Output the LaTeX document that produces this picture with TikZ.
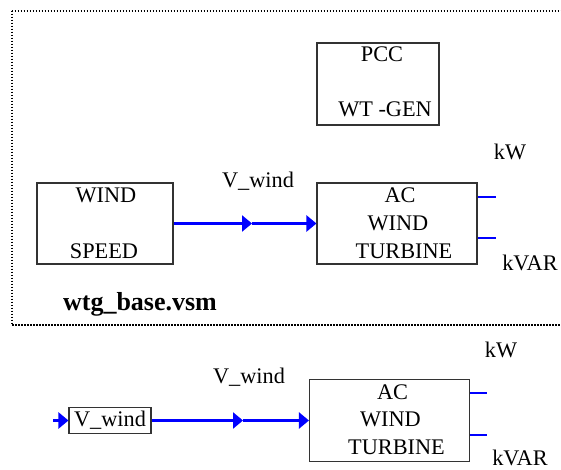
\documentclass[tikz,border=0pt]{standalone}
\usepackage{fontspec}
\setmainfont{Liberation Serif}
\usetikzlibrary{arrows.meta}
\tikzset{
  box/.style={draw=black!80, line width=1.1pt, inner sep=0pt, minimum width=#1},
  txt/.style={anchor=base, inner sep=0pt, font=\fontsize{22.3}{26}\selectfont},
  bold/.style={anchor=base, inner sep=0pt, font=\fontsize{26}{30}\selectfont\bfseries},
  sig/.style={draw=blue, line width=2.3pt, -{Triangle[length=10pt,width=16pt]}},
  stub/.style={draw=blue, line width=2.3pt},
  frame/.style={draw=black, line width=2pt, dash pattern=on 1.6pt off 1.4pt}
}
\begin{document}
\begin{tikzpicture}[x=1pt,y=-1pt]
\useasboundingbox (0,0) rectangle (561,470);
\clip (0,0) rectangle (561,470);
% dotted frame
\coordinate (f1) at (575,10.7);
\coordinate (f2) at (11.7,10.7);
\coordinate (f3) at (11.7,325);
\coordinate (f4) at (575,325);
\draw[frame] (f2) -- (f1);
\draw[frame] (f2) -- (f3) -- (f4);

% ===== top section =====
\node[box=122pt, minimum height=82pt] (pcc) at (378,84) {};
\node[txt] (pcct) at (382,62) {PCC};
\node[txt] (wtgen) at (385,117) {WT -GEN};

\node[box=136pt, minimum height=81pt] (ws) at (105,223.5) {};
\node[txt] (wst1) at (106,202) {WIND};
\node[txt] (wst2) at (104,258) {SPEED};

\node[txt] (vw1) at (258,188) {V\_wind};

\node[box=160pt, minimum height=81pt] (ac1) at (397,223.5) {};
\node[txt] (ac1a) at (400,203) {AC};
\node[txt] (ac1b) at (398,230) {WIND};
\node[txt] (ac1c) at (404,258) {TURBINE};

\coordinate (mid1) at (252,223.5);
\draw[sig] (ws.east) -- (mid1);
\draw[sig] (mid1) -- (ac1.west);

\coordinate (kw1e) at (496,197);
\coordinate (kv1e) at (496,238);
\draw[stub] (ac1.east |- kw1e) -- (kw1e);
\draw[stub] (ac1.east |- kv1e) -- (kv1e);
\node[txt] (kw1) at (510,160) {kW};
\node[txt] (kv1) at (530,270) {kVAR};

\node[bold] (fname) at (140,310) {wtg\_base.vsm};

% ===== bottom section =====
\node[txt] (kw2) at (501,357) {kW};
\node[txt] (vw2) at (249,383) {V\_wind};

\node[box=82pt, minimum height=26pt, font=\fontsize{22.3}{26}\selectfont] (vin) at (110,420.5) {V\_wind};
\coordinate (in) at (53,420.5);
\draw[sig] (in) -- (vin.west);

\node[box=160pt, minimum height=82pt] (ac2) at (389.5,420.5) {};
\node[txt] (ac2a) at (392.5,399) {AC};
\node[txt] (ac2b) at (390.5,426) {WIND};
\node[txt] (ac2c) at (396.5,454) {TURBINE};

\coordinate (mid2) at (243,420.5);
\draw[sig] (vin.east) -- (mid2);
\draw[sig] (mid2) -- (ac2.west);

\coordinate (kw2e) at (487,393);
\coordinate (kv2e) at (487,435);
\draw[stub] (ac2.east |- kw2e) -- (kw2e);
\draw[stub] (ac2.east |- kv2e) -- (kv2e);
\node[txt] (kv2) at (520,465) {kVAR};
\end{tikzpicture}
\end{document}
